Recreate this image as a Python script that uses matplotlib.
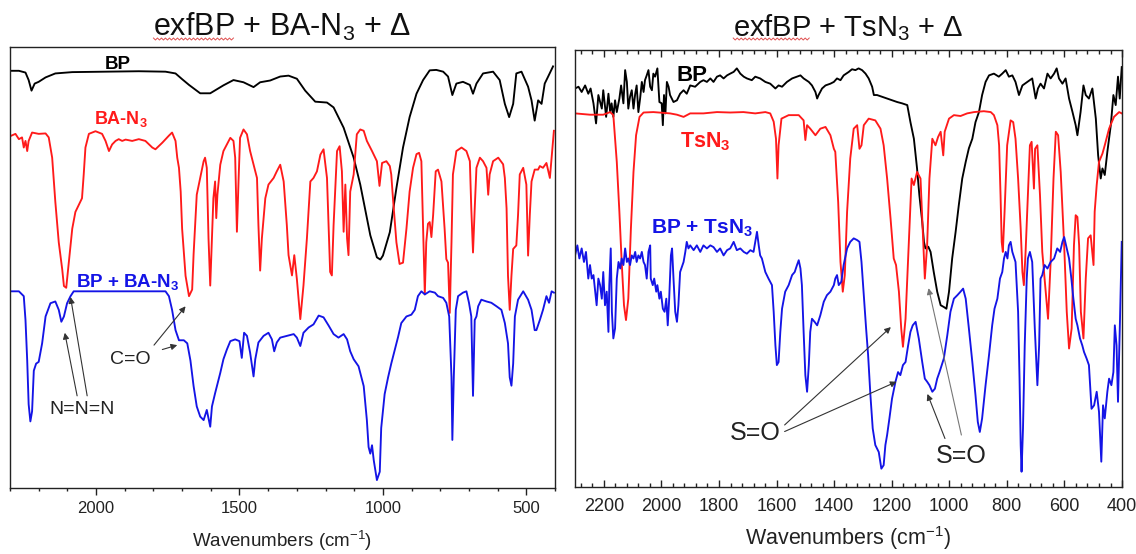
import numpy as np
import matplotlib
matplotlib.use("Agg")
import matplotlib.pyplot as plt
from matplotlib.ticker import MultipleLocator, NullLocator
from matplotlib.lines import Line2D

plt.rcParams['font.family'] = ['Liberation Sans', 'DejaVu Sans']
plt.rcParams['mathtext.fontset'] = 'custom'
plt.rcParams['mathtext.rm'] = 'Liberation Sans'
plt.rcParams['mathtext.it'] = 'Liberation Sans:italic'
plt.rcParams['mathtext.bf'] = 'Liberation Sans:bold'

# ---------------- Left panel: exfBP + BA-N3 ----------------
left_bp_wn = [2295, 2269, 2246, 2235, 2225, 2214, 2200, 2176, 2142, 2083, 1967, 1851, 1758, 1723, 1700, 1676,
              1637, 1602, 1556, 1521, 1486, 1451, 1428, 1393, 1358, 1329, 1300, 1271, 1236, 1195, 1172, 1137,
              1102, 1079, 1044, 1021, 1009, 1000, 976, 953, 930, 907, 883, 860, 837, 814, 790, 773, 758, 744,
              721, 697, 686, 674, 651, 616, 593, 575, 560, 546, 535, 517, 494, 482, 471, 459, 447, 436, 424, 407]
left_bp_t = [94.6, 94.6, 94.2, 92.5, 90.1, 91.7, 92.1, 93.1, 94.0, 94.3, 94.4, 94.5, 94.4, 94.0, 92.7, 91.4,
             89.5, 89.5, 91.3, 92.5, 92.0, 90.9, 92.0, 92.4, 93.3, 93.5, 92.8, 90.1, 87.6, 87.4, 86.3, 81.7,
             74.9, 68.8, 57.3, 52.3, 51.8, 52.7, 58.0, 68.0, 77.2, 84.1, 89.4, 92.5, 94.7, 94.8, 94.4, 93.3, 89.1, 91.7,
             92.1, 91.4, 89.4, 91.7, 94.0, 94.4, 92.5, 87.1, 84.1, 87.1, 94.0, 94.4, 91.0, 87.9, 83.3, 87.9, 87.1, 91.7, 93.3, 95.6]

left_ba_wn = [2295, 2281, 2269, 2258, 2252, 2246, 2240, 2235, 2223, 2200, 2176, 2165, 2153, 2142, 2130, 2118,
              2112, 2104, 2095, 2083, 2072, 2060, 2049, 2043, 2037, 2025, 2002, 1979, 1967, 1955, 1944, 1932,
              1921, 1909, 1897, 1874, 1851, 1828, 1804, 1793, 1769, 1746, 1735, 1723, 1717, 1711, 1705, 1700,
              1688, 1676, 1665, 1660, 1649, 1637, 1625, 1620, 1614, 1608, 1602, 1596, 1591, 1585, 1581, 1577,
              1567, 1556, 1544, 1532, 1521, 1515, 1509, 1503, 1498, 1486, 1474, 1463, 1451, 1439, 1434, 1428,
              1422, 1410, 1399, 1381, 1370, 1358, 1346, 1335, 1329, 1317, 1309, 1300, 1288, 1277, 1265, 1253,
              1242, 1230, 1218, 1207, 1195, 1184, 1178, 1172, 1160, 1151, 1143, 1137, 1131, 1125, 1120, 1114,
              1102, 1091, 1079, 1067, 1056, 1038, 1021, 1012, 1003, 988, 976, 971, 965, 953, 942, 930, 918, 907,
              895, 883, 874, 866, 860, 854, 849, 843, 837, 831, 825, 816, 808, 796, 785, 779, 773, 767, 761, 756,
              744, 726, 709, 697, 692, 686, 680, 674, 662, 651, 639, 633, 628, 616, 598, 581, 575, 569, 564, 558,
              552, 546, 535, 529, 523, 511, 500, 494, 488, 482, 471, 459, 453, 442, 430, 418, 412, 404]
left_ba_t = [79.9, 80.3, 79.1, 79.5, 77.2, 78.7, 76.4, 78.7, 80.6, 80.3, 80.4, 79.5, 74.9, 64.9, 55.7, 49.6,
             45.8, 45.4, 51.1, 58.8, 62.6, 64.2, 65.7, 71.1, 77.2, 80.3, 80.9, 80.3, 78.7, 76.4, 77.9, 78.7,
             79.1, 78.7, 79.0, 78.7, 79.1, 78.7, 77.2, 76.8, 78.3, 79.9, 80.6, 78.7, 74.9, 72.6, 67.2, 58.8,
             48.1, 43.5, 45.0, 53.0, 66.5, 70.3, 74.1, 74.9, 72.6, 56.6, 45.9, 56.6, 65.7, 69.5, 61.2, 66.5,
             73.3, 76.4, 77.9, 79.4, 78.7, 74.9, 58.1, 70.3, 79.4, 81.3, 80.2, 76.4, 73.3, 70.3, 59.6, 49.3,
             56.6, 65.7, 68.8, 70.3, 71.8, 73.3, 69.5, 59.6, 52.8, 48.2, 52.8, 47.4, 38.3, 45.9, 56.6, 69.5,
             70.3, 71.8, 75.6, 76.8, 70.3, 49.0, 48.2, 59.6, 76.4, 77.5, 71.8, 58.1, 68.8, 56.6, 52.8, 67.2,
             71.1, 80.2, 81.3, 81.0, 78.7, 76.4, 74.1, 68.5, 73.7, 74.1, 73.0, 71.1, 65.7, 55.7, 50.8, 51.1, 58.8, 67.2,
             72.6, 75.7, 76.0, 74.1, 58.8, 43.9, 55.7, 59.9, 60.3, 56.9, 61.9, 71.8, 72.2, 69.5, 58.8, 51.9, 51.1, 39.7, 55.7, 71.1,
             76.4, 77.2, 76.4, 74.1, 63.4, 53.4, 63.4, 72.6, 74.9, 74.1, 72.6, 66.5, 71.1, 74.1, 74.9, 73.4, 70.3, 63.4, 48.1, 40.4,
             48.1, 54.2, 55.0, 61.9, 71.1, 72.6, 68.8, 52.7, 61.9, 69.5, 72.2, 72.2, 73.0, 72.6, 73.7, 70.3, 74.9, 81.0]

left_mix_wn = [2295, 2269, 2252, 2246, 2240, 2235, 2229, 2223, 2217, 2209, 2200, 2188, 2176, 2159, 2142, 2130,
               2121, 2112, 2101, 2089, 2078, 1967, 1851, 1758, 1746, 1735, 1723, 1711, 1694, 1682, 1671, 1660,
               1649, 1637, 1625, 1614, 1602, 1596, 1585, 1567, 1556, 1544, 1532, 1515, 1500, 1492, 1484, 1474,
               1463, 1451, 1445, 1434, 1416, 1399, 1387, 1379, 1370, 1358, 1335, 1311, 1300, 1288, 1277, 1259,
               1242, 1224, 1207, 1189, 1172, 1155, 1137, 1125, 1114, 1102, 1085, 1067, 1056, 1050, 1044, 1038,
               1032, 1021, 1011, 1006, 994, 982, 971, 959, 947, 936, 918, 901, 889, 878, 866, 854, 837, 819,
               808, 790, 779, 769, 761, 758, 753, 746, 738, 721, 709, 700, 692, 686, 680, 674, 668, 657, 639,
               622, 604, 587, 575, 564, 558, 552, 546, 540, 529, 511, 494, 482, 471, 465, 453, 442, 430, 421, 412, 404]
left_mix_t = [44.6, 44.6, 43.5, 38.1, 28.9, 19.0, 15.1, 17.4, 26.6, 28.2, 28.6, 32.8, 38.9, 41.9, 42.3, 40.4,
              37.7, 38.9, 41.9, 43.5, 44.6, 44.6, 44.6, 44.6, 43.5, 40.4, 35.8, 33.5, 33.5, 32.8, 28.9, 23.1,
              18.5, 16.2, 15.4, 17.7, 13.9, 18.5, 21.5, 26.1, 29.2, 31.4, 33.3, 33.7, 33.3, 29.5, 35.2, 34.5,
              30.7, 25.3, 29.2, 33.0, 34.5, 35.2, 33.7, 31.0, 33.0, 34.1, 34.5, 34.9, 34.1, 32.2, 35.2, 36.4,
              37.1, 39.1, 38.7, 36.8, 34.9, 34.1, 34.9, 33.7, 31.0, 29.2, 27.6, 23.1, 15.4, 9.3, 7.8, 9.7,
              6.3, 1.8, 3.7, 13.6, 21.3, 25.1, 28.2, 31.2, 34.3, 37.4, 38.9, 39.3, 40.4, 43.5, 44.6, 43.9, 44.6, 44.3,
              43.5, 43.1, 42.0, 38.9, 25.1, 10.9, 25.1, 40.4, 43.5, 44.3, 44.6, 42.0, 38.9, 20.9, 38.1, 38.9, 41.2, 42.7, 42.3,
              42.0, 41.2, 40.4, 37.4, 32.8, 25.1, 23.2, 28.2, 38.9, 42.7, 44.6, 42.7, 40.4, 35.8, 35.8, 38.1, 40.4, 43.5, 42.0, 44.6, 44.3]

# ---------------- Right panel: exfBP + TsN3 ----------------
right_bp_wn = [2300, 2288, 2277, 2265, 2254, 2246, 2236, 2227, 2219, 2207, 2202, 2192, 2184, 2178, 2173, 2167,
               2161, 2155, 2146, 2140, 2132, 2126, 2120, 2115, 2109, 2103, 2097, 2091, 2086, 2080, 2074, 2068,
               2062, 2057, 2051, 2045, 2039, 2033, 2028, 2022, 2014, 2007, 1999, 1995, 1991, 1986, 1981, 1975,
               1970, 1958, 1946, 1935, 1923, 1912, 1900, 1883, 1865, 1854, 1842, 1830, 1819, 1807, 1796, 1784,
               1772, 1761, 1749, 1738, 1726, 1714, 1703, 1686, 1674, 1657, 1639, 1622, 1604, 1593, 1581, 1564,
               1546, 1529, 1517, 1506, 1488, 1477, 1465, 1459, 1454, 1442, 1430, 1413, 1401, 1390, 1378, 1367,
               1349, 1338, 1326, 1315, 1303, 1291, 1280, 1268, 1262, 1251, 1233, 1216, 1199, 1181, 1164, 1146,
               1135, 1123, 1112, 1104, 1094, 1088, 1083, 1073, 1065, 1054, 1042, 1030, 1019, 1010, 1001, 990,
               978, 967, 955, 943, 932, 920, 909, 897, 886, 874, 862, 845, 828, 816, 804, 793, 781, 770, 758, 746,
               729, 712, 700, 692, 683, 671, 659, 648, 636, 627, 619, 607, 596, 584, 572, 561, 555, 544, 534, 526,
               515, 503, 491, 483, 474, 468, 460, 451, 439, 430, 422, 414, 408, 401]
right_bp_t = [91.2, 91.6, 90.4, 91.9, 90.0, 91.2, 87.8, 83.2, 89.7, 86.6, 90.8, 84.7, 90.0, 85.8, 87.8, 84.7,
              88.5, 85.8, 88.9, 91.9, 87.8, 95.4, 92.7, 86.6, 89.3, 90.8, 86.6, 90.0, 91.9, 85.8, 88.9, 92.7,
              90.4, 93.1, 94.2, 95.4, 91.6, 90.8, 94.6, 93.9, 95.8, 88.1, 87.8, 82.8, 89.7, 85.5, 92.7, 91.6,
              89.7, 88.1, 88.5, 90.0, 90.8, 90.0, 91.9, 91.6, 92.7, 93.1, 92.7, 93.5, 92.7, 93.9, 94.2, 93.5,
              94.2, 94.6, 95.0, 95.8, 94.6, 93.9, 93.5, 93.1, 93.9, 93.5, 92.7, 92.3, 91.2, 91.9, 91.6, 92.7,
              93.5, 93.9, 94.2, 93.5, 92.7, 91.9, 90.4, 88.9, 89.7, 91.2, 91.9, 92.3, 92.7, 93.5, 93.1, 94.2,
              95.0, 95.6, 95.4, 95.8, 95.4, 94.6, 93.5, 91.6, 89.7, 89.7, 89.3, 88.9, 88.5, 88.1, 87.8, 87.4,
              83.5, 79.7, 72.9, 66.8, 60.7, 56.1, 54.6, 55.0, 53.8, 49.2, 44.7, 41.6, 41.2, 40.8, 44.7, 52.3,
              58.4, 64.5, 70.6, 74.4, 77.5, 79.7, 83.5, 85.8, 89.7, 92.7, 94.2, 94.6, 93.9, 94.6, 95.4, 93.9, 94.2, 92.7, 89.7, 91.9,
              92.7, 93.5, 88.9, 91.2, 92.3, 91.2, 94.6, 93.5, 94.6, 95.8, 93.5, 92.3, 93.5, 88.9, 85.8, 82.8, 80.5, 85.8, 91.9, 89.7,
              88.9, 91.2, 84.3, 75.9, 70.6, 72.9, 71.4, 76.7, 82.8, 89.7, 87.4, 93.9, 88.9, 96.1]

right_ts_wn = [2300, 2248, 2202, 2178, 2167, 2155, 2146, 2138, 2130, 2123, 2115, 2106, 2097, 2088, 2076, 2062,
               2028, 1970, 1946, 1923, 1900, 1854, 1807, 1761, 1715, 1674, 1639, 1622, 1610, 1602, 1597, 1593,
               1583, 1558, 1523, 1506, 1500, 1494, 1483, 1465, 1448, 1430, 1413, 1401, 1396, 1386, 1378, 1370,
               1363, 1355, 1344, 1332, 1320, 1312, 1305, 1297, 1280, 1257, 1239, 1228, 1216, 1204, 1193, 1185,
               1175, 1167, 1161, 1152, 1141, 1131, 1123, 1112, 1100, 1092, 1085, 1077, 1069, 1059, 1048, 1039,
               1030, 1021, 1016, 1001, 984, 961, 938, 914, 880, 856, 845, 833, 827, 822, 818, 814, 808, 799, 787,
               778, 770, 761, 752, 746, 741, 735, 727, 720, 714, 706, 702, 694, 685, 677, 665, 657, 648, 638, 630,
               622, 613, 601, 592, 584, 575, 567, 561, 555, 549, 543, 534, 526, 518, 509, 499, 495, 488, 480, 468,
               460, 445, 428, 410, 401]
right_ts_t = [85.5, 85.2, 85.2, 85.8, 85.1, 74.4, 63.0, 51.5, 41.6, 38.2, 43.1, 59.1, 72.1, 80.5, 84.7, 85.7,
              85.8, 85.5, 85.2, 84.7, 85.5, 85.5, 85.8, 85.7, 85.8, 85.5, 85.8, 85.5, 83.6, 79.7, 70.6, 78.2,
              84.3, 85.1, 85.1, 83.9, 79.4, 82.8, 82.0, 80.5, 82.0, 82.4, 80.5, 77.4, 76.7, 65.2, 51.5, 44.7,
              48.5, 63.0, 75.2, 82.0, 82.8, 77.4, 78.2, 82.8, 84.3, 83.9, 82.0, 78.2, 70.6, 61.4, 52.3, 50.8,
              44.7, 36.3, 32.1, 38.5, 55.3, 70.6, 69.1, 72.1, 70.6, 58.4, 47.7, 55.3, 70.6, 79.7, 78.2, 80.1,
              81.3, 75.9, 81.3, 84.3, 85.1, 84.9, 85.5, 85.8, 86.0, 85.8, 85.1, 82.8, 78.2, 66.8, 56.1, 53.8, 63.0, 78.2, 83.9,
              83.5, 79.7, 70.6, 59.1, 49.2, 46.2, 53.8, 66.8, 78.2, 79.0, 68.3, 77.4, 78.2, 66.8, 53.8, 44.7, 38.5, 51.5, 70.6, 81.3,
              80.5, 72.1, 55.3, 40.1, 31.7, 36.3, 55.3, 62.2, 61.8, 55.3, 40.1, 34.0, 47.7, 56.9, 57.6, 50.8, 63.0, 69.1, 74.4, 76.3,
              78.2, 82.0, 84.7, 85.8, 85.5]

right_mix_wn = [2300, 2292, 2285, 2277, 2269, 2262, 2254, 2248, 2242, 2236, 2230, 2225, 2219, 2213, 2207, 2202,
                2196, 2190, 2184, 2181, 2176, 2172, 2167, 2161, 2155, 2149, 2143, 2138, 2132, 2126, 2120, 2115,
                2109, 2103, 2097, 2091, 2086, 2080, 2074, 2068, 2062, 2057, 2051, 2045, 2039, 2037, 2030, 2025,
                2018, 2014, 2007, 2002, 1995, 1989, 1983, 1978, 1973, 1967, 1963, 1958, 1952, 1946, 1941, 1935,
                1923, 1917, 1912, 1906, 1900, 1888, 1877, 1865, 1854, 1842, 1830, 1819, 1807, 1796, 1784, 1772,
                1761, 1749, 1738, 1726, 1714, 1703, 1691, 1680, 1668, 1662, 1657, 1651, 1639, 1628, 1616, 1610,
                1604, 1599, 1593, 1587, 1581, 1570, 1558, 1546, 1537, 1529, 1523, 1517, 1512, 1506, 1500, 1494,
                1488, 1483, 1477, 1468, 1459, 1448, 1436, 1425, 1413, 1401, 1396, 1390, 1384, 1375, 1367, 1355,
                1344, 1332, 1320, 1312, 1305, 1297, 1289, 1282, 1274, 1266, 1257, 1245, 1236, 1228, 1222, 1216,
                1208, 1199, 1187, 1178, 1170, 1161, 1152, 1143, 1135, 1127, 1117, 1106, 1094, 1085, 1077, 1069,
                1059, 1050, 1042, 1034, 1019, 1007, 996, 984, 972, 961, 952, 943, 932, 920, 909, 901, 894, 886,
                874, 862, 851, 843, 833, 824, 816, 810, 804, 798, 793, 787, 781, 770, 761, 756, 752, 749, 744,
                738, 731, 727, 720, 712, 703, 694, 688, 683, 677, 669, 659, 648, 636, 625, 615, 607, 601, 592,
                584, 576, 569, 561, 555, 546, 538, 532, 523, 515, 506, 497, 488, 480, 472, 466, 460, 451, 445,
                437, 430, 425, 419, 414, 407, 401]
right_mix_t = [53.0, 55.3, 52.3, 54.6, 51.5, 53.8, 47.7, 50.8, 47.7, 48.5, 44.7, 41.6, 47.7, 46.2, 43.1, 49.2,
               41.6, 44.7, 35.5, 46.2, 54.6, 40.1, 34.0, 36.3, 47.7, 51.5, 50.0, 52.3, 50.8, 54.6, 51.5, 52.3,
               50.8, 53.0, 52.3, 53.8, 51.5, 53.0, 52.3, 53.8, 51.5, 50.8, 47.7, 53.8, 55.3, 47.7, 46.2, 47.7,
               44.7, 46.2, 43.1, 44.7, 40.8, 40.1, 43.1, 37.0, 43.1, 53.0, 54.6, 47.7, 40.1, 37.8, 41.6, 49.2,
               51.5, 53.8, 56.1, 54.6, 55.3, 54.2, 55.3, 53.8, 55.3, 54.6, 55.3, 54.9, 53.8, 54.6, 53.0, 54.2,
               54.6, 56.1, 54.2, 54.6, 53.8, 53.4, 54.2, 53.8, 58.4, 55.3, 53.0, 52.3, 49.2, 47.7, 46.2, 40.1,
               32.4, 27.9, 28.6, 35.5, 40.8, 44.7, 46.2, 48.5, 49.2, 50.8, 51.9, 50.0, 46.2, 35.5, 25.6, 21.8,
               27.9, 35.5, 38.5, 37.8, 37.0, 39.3, 42.4, 43.9, 44.7, 46.2, 47.7, 48.5, 46.2, 47.0, 50.8, 54.6,
               56.1, 56.9, 56.5, 56.1, 51.5, 43.9, 36.3, 30.2, 21.0, 13.4, 9.6, 8.0, 4.2, 5.0, 9.6, 11.9,
               15.7, 20.2, 24.1, 26.3, 25.6, 27.9, 28.6, 32.4, 35.5, 37.0, 37.8, 34.0, 28.6, 24.8, 24.1, 23.3,
               21.8, 22.5, 24.8, 26.3, 29.4, 34.7, 40.1, 43.1, 43.9, 44.7, 45.4, 43.1, 36.3, 28.6, 21.0, 14.9, 12.6, 15.7,
               23.3, 30.2, 37.0, 40.8, 43.1, 47.7, 49.2, 52.3, 53.8, 52.3, 55.3, 56.1, 53.8, 51.5, 40.1, 24.8, 9.6, 3.5, 13.4,
               32.4, 47.7, 52.3, 53.8, 51.5, 36.3, 23.3, 32.4, 47.7, 48.5, 50.8, 50.0, 51.5, 52.3, 54.6, 53.8, 56.1, 57.2, 54.6,
               52.3, 47.7, 43.1, 38.5, 37.0, 34.0, 32.4, 30.9, 29.4, 27.9, 17.9, 18.7, 21.8, 17.2, 5.8, 18.7, 15.7, 21.8, 24.8,
               23.3, 26.3, 37.0, 32.4, 19.5, 38.5, 56.1]

BLACK, RED, BLUE = '#000000', '#ff1a1a', '#1414e6'

fig = plt.figure(figsize=(11.36, 5.54), dpi=100)
axL = fig.add_axes([0.0088, 0.1191, 0.4798, 0.7961])
axR = fig.add_axes([0.5062, 0.1209, 0.4815, 0.7888])

lw = 1.35
axL.plot(left_bp_wn, left_bp_t, color=BLACK, lw=lw)
axL.plot(left_ba_wn, left_ba_t, color=RED, lw=lw)
axL.plot(left_mix_wn, left_mix_t, color=BLUE, lw=lw)

axR.plot(right_bp_wn, right_bp_t, color=BLACK, lw=lw)
axR.plot(right_ts_wn, right_ts_t, color=RED, lw=lw)
axR.plot(right_mix_wn, right_mix_t, color=BLUE, lw=lw)

for ax in (axL, axR):
    ax.set_xlim(2300, 400)
    ax.set_ylim(0, 100)
    ax.yaxis.set_major_locator(NullLocator())
    for s in ax.spines.values():
        s.set_linewidth(1.0)
        s.set_color('#222222')

axL.xaxis.set_major_locator(MultipleLocator(500))
axL.xaxis.set_minor_locator(MultipleLocator(100))
axL.tick_params(axis='x', which='major', direction='out', length=5, width=1.0, labelsize=12, pad=4.5, colors='#222222')
axL.tick_params(axis='x', which='minor', direction='out', length=2.5, width=1.0, colors='#222222')

axR.xaxis.set_major_locator(MultipleLocator(200))
axR.xaxis.set_minor_locator(MultipleLocator(40))
axR.tick_params(axis='x', which='both', direction='in', top=True, bottom=True, colors='#222222')
axR.tick_params(axis='x', which='major', length=5, width=1.0, labelsize=13, pad=8)
axR.tick_params(axis='x', which='minor', length=3, width=1.0)

# labels
axL.text(1926, 95.0, 'BP', color=BLACK, fontsize=13.5, fontweight='bold', ha='center', va='baseline')
axL.text(1912, 82.6, r'BA-N$_\mathbf{3}$', color=RED, fontsize=13, fontweight='bold', ha='center', va='baseline')
axL.text(1891, 45.6, r'BP + BA-N$_\mathbf{3}$', color=BLUE, fontsize=13.5, fontweight='bold', ha='center', va='baseline')
axL.text(2049, 16.7, 'N=N=N', color='#222222', fontsize=14, ha='center', va='baseline')
axL.text(1881, 28.2, 'C=O', color='#222222', fontsize=14, ha='center', va='baseline')

axR.text(1894, 93.0, 'BP', color=BLACK, fontsize=16, fontweight='bold', ha='center', va='baseline')
axR.text(1848, 77.8, r'TsN$_\mathbf{3}$', color=RED, fontsize=15.5, fontweight='bold', ha='center', va='baseline')
axR.text(1859, 58.0, r'BP + TsN$_\mathbf{3}$', color=BLUE, fontsize=15, fontweight='bold', ha='center', va='baseline')
axR.text(1674, 12.3, 'S=O', color='#222222', fontsize=18, ha='center', va='center')
axR.text(958, 7.2, 'S=O', color='#222222', fontsize=18, ha='center', va='center')

def arrow(ax, start, end, color='#333333'):
    ax.annotate('', xy=end, xytext=start,
                arrowprops=dict(arrowstyle='-|>', color=color, lw=0.8, mutation_scale=9,
                                shrinkA=0, shrinkB=0))

arrow(axL, (2066, 20.9), (2109, 35.2))
arrow(axL, (2031, 20.9), (2089, 43.3))
arrow(axL, (1798, 32.4), (1688, 41.2))
arrow(axL, (1769, 31.4), (1717, 32.4))
arrow(axR, (1572, 14.2), (1203, 36.6))
arrow(axR, (1572, 12.7), (1183, 24.1))
arrow(axR, (958, 11.9), (1072, 45.5), color='#777777')
arrow(axR, (1015, 11.1), (1076, 21.3))

# titles and x labels
title_sizes = (22, 21)
tL = fig.text(0.2487, 0.935, r'exfBP + BA-N$_3$ + Δ', fontsize=title_sizes[0], ha='center', va='baseline', color='#111111')
tR = fig.text(0.7469, 0.935, r'exfBP + TsN$_3$ + Δ', fontsize=title_sizes[1], ha='center', va='baseline', color='#111111')
fig.text(0.2487, 0.013, r'Wavenumbers (cm$^{-1}$)', fontsize=13.5, ha='center', va='baseline', color='#222222')
fig.text(0.7469, 0.017, r'Wavenumbers (cm$^{-1}$)', fontsize=15.5, ha='center', va='baseline', color='#222222')

# red spell-check squiggle under "exfBP"
fig.canvas.draw()
r = fig.canvas.get_renderer()
for t, fs in zip((tL, tR), title_sizes):
    bb = t.get_window_extent(r)
    tmp = fig.text(0, 0, 'exfBP', fontsize=fs)
    w = tmp.get_window_extent(r).width
    tmp.remove()
    x0 = bb.x0
    ybase = 0.935 * fig.bbox.height - 3
    xs = np.arange(x0, x0 + w, 2.0)
    ys = ybase + np.where(np.arange(len(xs)) % 2 == 0, 1.0, -1.0)
    fig.add_artist(Line2D(xs / fig.bbox.width, ys / fig.bbox.height, transform=fig.transFigure,
                          color='#e05050', lw=0.7))

fig.savefig('out.png', dpi=100)
